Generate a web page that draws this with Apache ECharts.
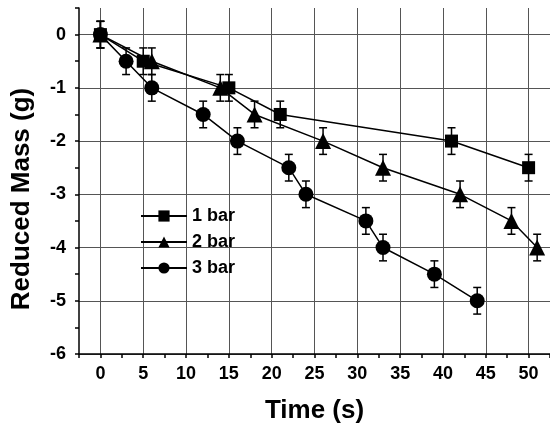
<!DOCTYPE html>
<html>
<head>
<meta charset="utf-8">
<script src="https://cdn.jsdelivr.net/npm/echarts@6/dist/echarts.min.js"></script>
<style>
  html, body { margin: 0; padding: 0; background: #fff; }
  #chart { width: 550px; height: 426px; }
</style>
</head>
<body>
<div id="chart"></div>
<script>
// data
var time1 = [0, 5, 15, 21, 41, 50];
var mass1 = [0, -0.5, -1, -1.5, -2, -2.5];
var err1 = [0.25, 0.25, 0.25, 0.25, 0.25, 0.25];

var time2 = [0, 6, 14, 18, 26, 33, 42, 48, 51];
var mass2 = [0, -0.5, -1, -1.5, -2, -2.5, -3, -3.5, -4];
var err2 = [0.25, 0.25, 0.25, 0.25, 0.25, 0.25, 0.25, 0.25, 0.25];

var time3 = [0, 3, 6, 12, 16, 22, 24, 31, 33, 39, 44];
var mass3 = [0, -0.5, -1, -1.5, -2, -2.5, -3, -3.5, -4, -4.5, -5];
var err3 = [0.25, 0.25, 0.25, 0.25, 0.25, 0.25, 0.25, 0.25, 0.25, 0.25, 0.25];

var names = ['1 bar', '2 bar', '3 bar'];

var font = 'Arial, "Liberation Sans", sans-serif';

function pairs(xs, ys) {
  return xs.map(function (x, i) { return [x, ys[i]]; });
}

function lineSeries(name, xs, ys, symbol, size) {
  return {
    name: name,
    type: 'line',
    data: pairs(xs, ys),
    symbol: symbol,
    symbolSize: size,
    itemStyle: { color: '#000' },
    lineStyle: { color: '#000', width: 1.5 },
    z: 3
  };
}

function errorSeries(xs, ys, errs) {
  return {
    type: 'custom',
    data: xs.map(function (x, i) { return [x, ys[i] - errs[i], ys[i] + errs[i]]; }),
    renderItem: function (params, api) {
      var lo = api.coord([api.value(0), api.value(1)]);
      var hi = api.coord([api.value(0), api.value(2)]);
      var w = 4;
      var st = { stroke: '#000', lineWidth: 1.5 };
      return {
        type: 'group',
        children: [
          { type: 'line', shape: { x1: lo[0], y1: lo[1], x2: hi[0], y2: hi[1] }, style: st },
          { type: 'line', shape: { x1: lo[0] - w, y1: lo[1], x2: lo[0] + w, y2: lo[1] }, style: st },
          { type: 'line', shape: { x1: hi[0] - w, y1: hi[1], x2: hi[0] + w, y2: hi[1] }, style: st }
        ]
      };
    },
    z: 2
  };
}

var chart = echarts.init(document.getElementById('chart'));

var option = {
  animation: false,
  backgroundColor: '#fff',
  grid: { left: 79, right: 0, top: 8, bottom: 72, outerBoundsMode: 'none' },
  legend: {
    data: names,
    orient: 'vertical',
    left: 135,
    top: 202,
    itemWidth: 46,
    itemHeight: 14,
    itemGap: 8,
    textStyle: { fontFamily: font, fontWeight: 'bold', fontSize: 18, lineHeight: 18, color: '#000' }
  },
  xAxis: {
    type: 'value',
    min: -2.5,
    max: 52.5,
    interval: 2.5,
    name: 'Time (s)',
    nameLocation: 'middle',
    nameGap: 44,
    nameTextStyle: { fontFamily: font, fontWeight: 'bold', fontSize: 26, color: '#000' },
    axisLine: { onZero: false, lineStyle: { color: '#000', width: 1.5 } },
    axisTick: { length: 4, lineStyle: { color: '#000', width: 1.5 } },
    axisLabel: {
      margin: 11,
      fontFamily: font, fontWeight: 'bold', fontSize: 18, color: '#000',
      formatter: function (v) { return v % 5 === 0 ? String(v) : ''; }
    },
    splitLine: { show: true, lineStyle: { color: ['transparent', '#555'], width: 1 } }
  },
  yAxis: {
    type: 'value',
    min: -6,
    max: 0.5,
    interval: 0.5,
    axisLine: { show: true, onZero: false, lineStyle: { color: '#000', width: 1.5 } },
    axisTick: { show: true, length: 4, lineStyle: { color: '#000', width: 1.5 } },
    axisLabel: {
      margin: 13,
      fontFamily: font, fontWeight: 'bold', fontSize: 18, color: '#000',
      formatter: function (v) { return Number.isInteger(v) ? String(v) : ''; }
    },
    splitLine: { show: true, lineStyle: { color: ['#555', 'transparent'], width: 1 } }
  },
  graphic: [{
    type: 'text',
    rotation: Math.PI / 2,
    x: 22,
    y: 199,
    style: {
      text: 'Reduced Mass (g)',
      font: 'bold 26px ' + font,
      fill: '#000',
      textAlign: 'center',
      textVerticalAlign: 'middle'
    }
  }],
  series: [
    errorSeries(time1, mass1, err1),
    errorSeries(time2, mass2, err2),
    errorSeries(time3, mass3, err3),
    lineSeries(names[0], time1, mass1, 'rect', 13),
    lineSeries(names[1], time2, mass2, 'triangle', 16),
    lineSeries(names[2], time3, mass3, 'circle', 15)
  ]
};

chart.setOption(option);
</script>
</body>
</html>
